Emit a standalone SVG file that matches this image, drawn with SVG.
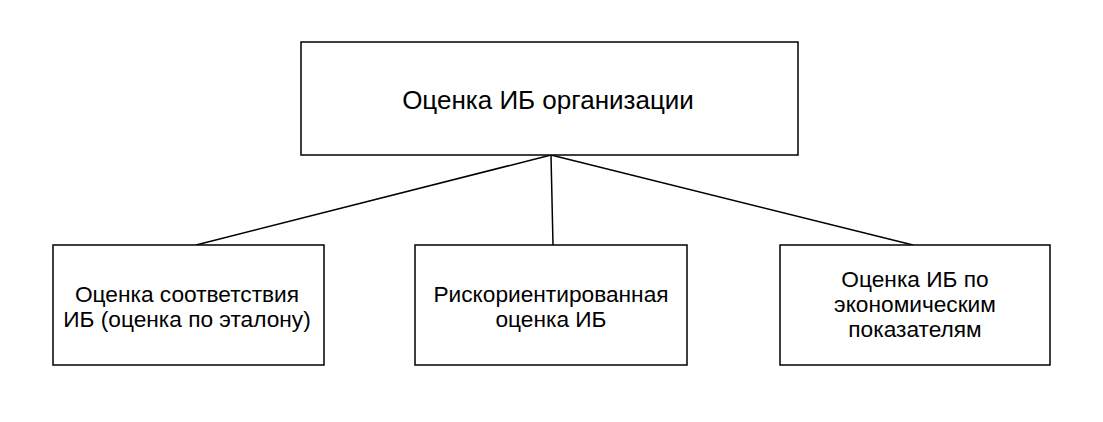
<svg xmlns="http://www.w3.org/2000/svg" width="1103" height="422" viewBox="0 0 1103 422">
<style>
.box{fill:#fff;stroke:#000;stroke-width:1.5}
.t{font-family:"Liberation Sans",Arial,sans-serif;font-size:22.7px;fill:#000;text-anchor:middle}
.tt{font-family:"Liberation Sans",Arial,sans-serif;font-size:26px;fill:#000;text-anchor:middle}
.c{stroke:#000;stroke-width:1.5;fill:none}
</style>
<rect width="1103" height="422" fill="#fff"/>
<g id="connectors">
<line class="c" x1="551" y1="155" x2="196" y2="245"/>
<line class="c" x1="551" y1="155" x2="553" y2="245"/>
<line class="c" x1="551" y1="155" x2="913" y2="245"/>
</g>
<g id="root">
<rect class="box" x="301" y="42" width="497" height="113"/>
<text class="tt" x="548" y="109">Оценка ИБ организации</text>
</g>
<g id="n1">
<rect class="box" x="53" y="245" width="271" height="120"/>
<text class="t" x="187" y="302">Оценка соответствия</text>
<text class="t" x="187" y="327">ИБ (оценка по эталону)</text>
</g>
<g id="n2">
<rect class="box" x="415" y="245" width="272" height="120"/>
<text class="t" x="551" y="302">Рискориентированная</text>
<text class="t" x="551" y="327">оценка ИБ</text>
</g>
<g id="n3">
<rect class="box" x="780" y="245" width="270" height="120"/>
<text class="t" x="915" y="287">Оценка ИБ по</text>
<text class="t" x="915" y="312">экономическим</text>
<text class="t" x="915" y="337">показателям</text>
</g>
</svg>
